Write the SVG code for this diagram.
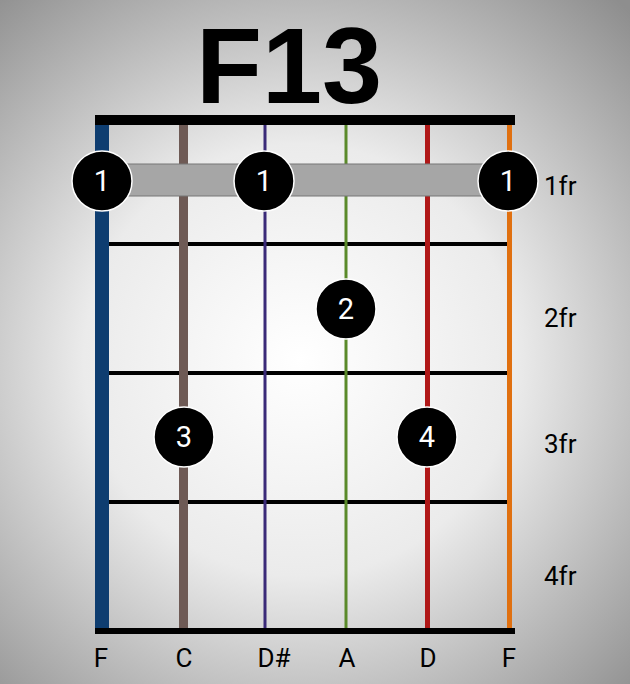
<svg xmlns="http://www.w3.org/2000/svg" width="630" height="684" viewBox="0 0 630 684">
<defs>
<radialGradient id="bg" cx="300" cy="360" r="480" gradientUnits="userSpaceOnUse">
<stop offset="0" stop-color="#ffffff"/>
<stop offset="0.45" stop-color="#ebebeb"/>
<stop offset="1" stop-color="#8e8e8e"/>
</radialGradient>
</defs>
<style>
.fret{stroke:#000;stroke-width:4}
.dot{fill:#000;stroke:#fff;stroke-width:1.5}
.fn{font-family:Roboto,"Liberation Sans",sans-serif;font-size:29px;fill:#fff;text-anchor:middle}
.lbl{font-family:Roboto,"Liberation Sans",sans-serif;font-size:26px;fill:#000;text-anchor:middle}
.fr{font-family:Roboto,"Liberation Sans",sans-serif;font-size:26px;fill:#000}
</style>
<rect width="630" height="684" fill="url(#bg)"/>
<text x="289" y="103" font-family="'Liberation Sans',Arial,sans-serif" font-weight="bold" font-size="108" text-anchor="middle" fill="#000">F13</text>
<g id="board">
<rect x="95" y="115" width="420" height="10" fill="#000"/>
<rect x="95" y="628" width="420" height="6" fill="#000"/>
<line class="fret" x1="108" y1="244" x2="508" y2="244"/>
<line class="fret" x1="108" y1="373" x2="508" y2="373"/>
<line class="fret" x1="108" y1="502" x2="508" y2="502"/>
</g>
<g id="strings">
<rect x="95" y="125" width="14" height="503" fill="#0e3d70"/>
<rect x="179" y="125" width="9" height="503" fill="#6e5a55"/>
<rect x="263.5" y="125" width="3" height="503" fill="#3a2a78"/>
<rect x="344.5" y="125" width="3" height="503" fill="#5a8a2a"/>
<rect x="425" y="125" width="5" height="503" fill="#b01818"/>
<rect x="507" y="125" width="5" height="503" fill="#e07010"/>
</g>
<g id="barre">
<rect x="110" y="164" width="390" height="32" fill="#a6a6a6" stroke="#777" stroke-width="1"/>
</g>
<g id="dot1a"><circle class="dot" cx="102" cy="181" r="30"/><text class="fn" x="102" y="191">1</text></g>
<g id="dot1b"><circle class="dot" cx="264" cy="181" r="30"/><text class="fn" x="264" y="191">1</text></g>
<g id="dot1c"><circle class="dot" cx="508" cy="181" r="30"/><text class="fn" x="508" y="191">1</text></g>
<g id="dot2"><circle class="dot" cx="346" cy="309" r="30"/><text class="fn" x="346" y="319">2</text></g>
<g id="dot3"><circle class="dot" cx="184" cy="437" r="30"/><text class="fn" x="184" y="447">3</text></g>
<g id="dot4"><circle class="dot" cx="427" cy="437" r="30"/><text class="fn" x="427" y="447">4</text></g>
<g id="fretlabels">
<text class="fr" x="544" y="195">1fr</text>
<text class="fr" x="544" y="327">2fr</text>
<text class="fr" x="544" y="453">3fr</text>
<text class="fr" x="544" y="585">4fr</text>
</g>
<g id="stringlabels">
<text class="lbl" x="101" y="667">F</text>
<text class="lbl" x="184" y="667">C</text>
<text class="lbl" x="274" y="667">D#</text>
<text class="lbl" x="347" y="667">A</text>
<text class="lbl" x="428" y="667">D</text>
<text class="lbl" x="509" y="667">F</text>
</g>
</svg>
